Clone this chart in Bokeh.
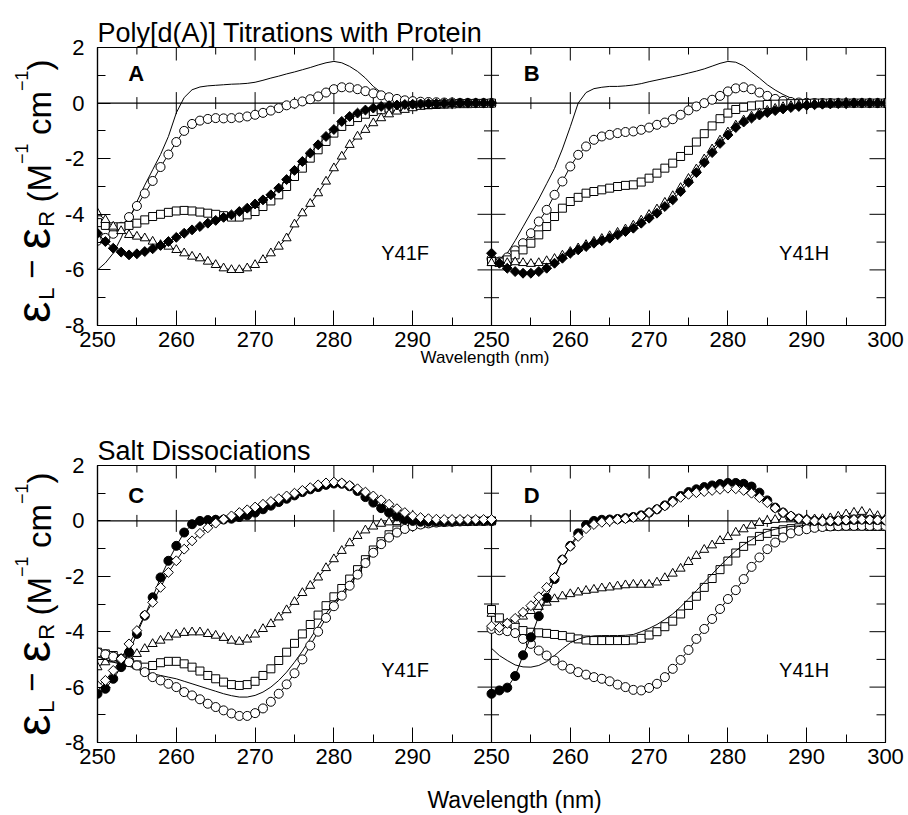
import math
from bokeh.plotting import figure
from bokeh.models import Range1d, FixedTicker, Span, Label, Title
from bokeh.layouts import column, row
from bokeh.embed import file_html
from bokeh.resources import INLINE

FONT = "Liberation Sans"

# ---------------- data (wavelength in nm, CD in M^-1 cm^-1) ----------------
wavelength = list(range(250, 301))

# Panel A  (Y41F, poly[d(A)] titration)
a_line = [-6.0, -5.75, -5.4, -4.85, -4.2, -3.55, -2.95, -2.4, -1.85, -1.2,
          -0.35, 0.2, 0.48, 0.58, 0.62, 0.64, 0.66, 0.68, 0.69, 0.71,
          0.75, 0.82, 0.9, 0.97, 1.05, 1.12, 1.2, 1.28, 1.37, 1.45,
          1.5, 1.45, 1.32, 1.14, 0.9, 0.6, 0.38, 0.22, 0.12, 0.06,
          0.03, 0.02, 0.01, 0.0, 0.0, 0.0, 0.0, 0.0, 0.0, 0.0, 0.0]
a_circ = [-4.95, -4.85, -4.7, -4.45, -4.1, -3.7, -3.25, -2.8, -2.3, -1.85,
          -1.4, -1.0, -0.75, -0.63, -0.57, -0.54, -0.55, -0.54, -0.52, -0.48,
          -0.42, -0.35, -0.27, -0.18, -0.08, -0.02, 0.06, 0.14, 0.24, 0.38,
          0.5, 0.57, 0.56, 0.5, 0.43, 0.35, 0.28, 0.21, 0.15, 0.1,
          0.07, 0.05, 0.04, 0.03, 0.02, 0.02, 0.01, 0.01, 0.0, 0.0, 0.0]
a_sq = [-4.3, -4.4, -4.45, -4.45, -4.4, -4.32, -4.2, -4.08, -4.0, -3.93,
        -3.88, -3.86, -3.88, -3.92, -3.96, -4.0, -4.05, -4.1, -4.1, -4.02,
        -3.9, -3.72, -3.52, -3.3, -3.0, -2.64, -2.34, -1.98, -1.68, -1.38,
        -1.08, -0.84, -0.66, -0.52, -0.4, -0.3, -0.24, -0.18, -0.14, -0.11,
        -0.09, -0.07, -0.06, -0.05, -0.04, -0.03, -0.02, -0.02, -0.01, -0.01, 0.0]
a_tri = [-3.96, -4.2, -4.44, -4.6, -4.74, -4.8, -4.86, -4.98, -5.1, -5.16,
         -5.28, -5.4, -5.52, -5.58, -5.7, -5.82, -5.94, -6.0, -6.0, -5.94,
         -5.82, -5.64, -5.4, -5.16, -4.86, -4.36, -3.96, -3.62, -3.24, -2.82,
         -2.34, -1.92, -1.5, -1.2, -0.96, -0.72, -0.54, -0.4, -0.3, -0.24,
         -0.18, -0.13, -0.1, -0.07, -0.05, -0.03, -0.02, -0.01, 0.0, 0.0, 0.0]
a_dia = [-4.68, -4.98, -5.22, -5.36, -5.46, -5.42, -5.34, -5.24, -5.12, -4.98,
         -4.83, -4.68, -4.56, -4.44, -4.32, -4.22, -4.11, -4.02, -3.9, -3.78,
         -3.63, -3.48, -3.3, -3.06, -2.75, -2.42, -2.1, -1.8, -1.5, -1.2,
         -0.95, -0.66, -0.48, -0.36, -0.25, -0.18, -0.12, -0.09, -0.07, -0.05,
         -0.04, -0.03, -0.02, -0.02, -0.01, -0.01, 0.0, 0.0, 0.0, 0.0, 0.0]

# Panel B  (Y41H, poly[d(A)] titration)
b_line = [-5.55, -5.6, -5.4, -4.95, -4.45, -3.95, -3.45, -2.9, -2.35, -1.65,
          -0.85, 0.0, 0.38, 0.52, 0.57, 0.6, 0.6, 0.62, 0.65, 0.7,
          0.77, 0.83, 0.89, 0.95, 1.01, 1.08, 1.15, 1.23, 1.33, 1.43,
          1.5, 1.47, 1.34, 1.12, 0.9, 0.66, 0.47, 0.31, 0.18, 0.1,
          0.05, 0.03, 0.02, 0.01, 0.0, 0.0, 0.0, 0.0, 0.0, 0.0, 0.0]
b_circ = [-5.6, -5.7, -5.55, -5.3, -5.04, -4.68, -4.26, -3.84, -3.3, -2.82,
          -2.28, -1.86, -1.56, -1.32, -1.2, -1.14, -1.08, -1.04, -1.02, -0.96,
          -0.88, -0.78, -0.7, -0.58, -0.42, -0.26, -0.12, 0.0, 0.12, 0.26,
          0.42, 0.53, 0.57, 0.5, 0.38, 0.26, 0.15, 0.08, 0.04, 0.02,
          0.01, 0.0, 0.0, 0.0, 0.0, 0.0, 0.0, 0.0, 0.0, 0.0, 0.0]
b_sq = [-5.7, -5.72, -5.64, -5.46, -5.28, -5.04, -4.74, -4.44, -4.08, -3.78,
        -3.54, -3.39, -3.24, -3.18, -3.12, -3.06, -3.0, -2.96, -2.94, -2.84,
        -2.7, -2.52, -2.34, -2.16, -1.92, -1.7, -1.4, -1.1, -0.82, -0.56,
        -0.36, -0.23, -0.15, -0.1, -0.07, -0.05, -0.04, -0.03, -0.02, -0.02,
        -0.01, 0.0, 0.0, 0.0, 0.0, 0.0, 0.0, 0.0, 0.0, 0.0, 0.0]
b_tri = [-5.75, -5.78, -5.75, -5.72, -5.75, -5.78, -5.75, -5.68, -5.6, -5.48,
         -5.35, -5.22, -5.1, -4.98, -4.88, -4.78, -4.66, -4.54, -4.4, -4.22,
         -4.02, -3.82, -3.58, -3.34, -3.05, -2.72, -2.38, -2.02, -1.66, -1.34,
         -1.05, -0.8, -0.62, -0.48, -0.36, -0.27, -0.2, -0.14, -0.1, -0.07,
         -0.05, -0.03, -0.02, -0.01, 0.0, 0.0, 0.0, 0.0, 0.0, 0.0, 0.0]
b_dia = [-5.4, -5.76, -5.94, -6.06, -6.12, -6.12, -6.06, -5.94, -5.76, -5.58,
         -5.4, -5.28, -5.16, -5.04, -4.95, -4.86, -4.74, -4.62, -4.5, -4.32,
         -4.14, -3.96, -3.72, -3.48, -3.18, -2.85, -2.5, -2.14, -1.78, -1.45,
         -1.15, -0.88, -0.68, -0.54, -0.43, -0.34, -0.27, -0.21, -0.16, -0.12,
         -0.08, -0.06, -0.04, -0.03, -0.02, -0.01, 0.0, 0.0, 0.0, 0.0, 0.0]

# Panel C  (Y41F, salt dissociation)
c_line = [-4.9, -5.0, -5.1, -5.18, -5.25, -5.35, -5.46, -5.52, -5.58, -5.64,
          -5.7, -5.79, -5.88, -5.97, -6.06, -6.15, -6.24, -6.31, -6.36, -6.36,
          -6.3, -6.18, -6.0, -5.76, -5.46, -5.1, -4.7, -4.25, -3.8, -3.35,
          -2.95, -2.6, -2.25, -1.85, -1.45, -1.08, -0.78, -0.54, -0.36, -0.24,
          -0.15, -0.1, -0.07, -0.05, -0.03, -0.02, -0.01, 0.0, 0.0, 0.0, 0.0]
c_tri = [-5.28, -5.1, -5.0, -4.98, -4.92, -4.8, -4.62, -4.44, -4.32, -4.2,
         -4.1, -4.04, -4.02, -4.02, -4.08, -4.14, -4.22, -4.32, -4.36, -4.28,
         -4.1, -3.9, -3.72, -3.48, -3.22, -2.92, -2.6, -2.34, -2.04, -1.7,
         -1.38, -1.08, -0.8, -0.54, -0.34, -0.2, -0.1, -0.05, -0.04, -0.04,
         -0.04, -0.03, -0.03, -0.02, -0.02, -0.01, -0.01, 0.0, 0.0, 0.0, 0.0]
c_sq = [-4.74, -4.8, -4.86, -4.98, -5.1, -5.2, -5.28, -5.22, -5.12, -5.07,
        -5.07, -5.16, -5.28, -5.42, -5.58, -5.7, -5.82, -5.91, -5.94, -5.91,
        -5.79, -5.58, -5.34, -5.04, -4.74, -4.42, -4.08, -3.74, -3.4, -3.06,
        -2.74, -2.44, -2.1, -1.76, -1.4, -1.05, -0.75, -0.5, -0.33, -0.22,
        -0.14, -0.1, -0.07, -0.05, -0.04, -0.03, -0.02, -0.02, -0.01, -0.01, 0.0]
c_circ = [-4.75, -4.82, -4.9, -4.98, -5.1, -5.22, -5.46, -5.64, -5.76, -5.88,
          -6.0, -6.18, -6.3, -6.44, -6.6, -6.72, -6.84, -6.95, -7.04, -7.04,
          -6.94, -6.77, -6.53, -6.24, -5.9, -5.5, -5.0, -4.5, -4.0, -3.5,
          -3.08, -2.7, -2.34, -1.94, -1.52, -1.15, -0.84, -0.6, -0.42, -0.29,
          -0.19, -0.13, -0.09, -0.06, -0.04, -0.03, -0.02, -0.01, 0.0, 0.0, 0.0]
c_fcirc = [-6.24, -6.06, -5.7, -5.28, -4.74, -4.08, -3.42, -2.76, -2.04, -1.44,
           -0.9, -0.42, -0.12, 0.0, 0.03, 0.04, 0.05, 0.08, 0.14, 0.2,
           0.3, 0.42, 0.55, 0.68, 0.8, 0.92, 1.04, 1.14, 1.22, 1.3,
           1.35, 1.34, 1.25, 1.08, 0.86, 0.66, 0.46, 0.3, 0.16, 0.06,
           0.0, -0.03, -0.03, -0.02, -0.02, -0.01, 0.0, 0.0, 0.0, 0.0, 0.0]
c_dia = [-5.95, -5.76, -5.4, -4.98, -4.44, -3.96, -3.4, -2.94, -2.4, -1.86,
         -1.44, -1.02, -0.72, -0.45, -0.25, -0.08, 0.06, 0.18, 0.3, 0.4,
         0.5, 0.6, 0.7, 0.8, 0.9, 1.0, 1.1, 1.2, 1.3, 1.37,
         1.4, 1.37, 1.28, 1.16, 1.04, 0.9, 0.76, 0.6, 0.44, 0.3,
         0.18, 0.12, 0.08, 0.06, 0.05, 0.05, 0.05, 0.05, 0.05, 0.05, 0.05]

# Panel D  (Y41H, salt dissociation)
d_line = [-4.6, -4.86, -5.04, -5.2, -5.27, -5.28, -5.22, -5.08, -4.86, -4.62,
          -4.4, -4.27, -4.19, -4.15, -4.14, -4.14, -4.14, -4.13, -4.1, -4.0,
          -3.88, -3.74, -3.56, -3.36, -3.1, -2.82, -2.52, -2.22, -1.92, -1.62,
          -1.34, -1.08, -0.86, -0.68, -0.5, -0.38, -0.3, -0.24, -0.2, -0.18,
          -0.16, -0.13, -0.12, -0.11, -0.1, -0.1, -0.1, -0.1, -0.1, -0.1, -0.1]
d_tri = [-3.35, -3.55, -3.7, -3.62, -3.45, -3.25, -3.1, -2.95, -2.82, -2.72,
         -2.64, -2.58, -2.52, -2.48, -2.43, -2.4, -2.36, -2.32, -2.3, -2.3,
         -2.3, -2.22, -2.06, -1.9, -1.72, -1.48, -1.26, -1.04, -0.88, -0.72,
         -0.58, -0.42, -0.3, -0.17, -0.07, 0.0, 0.04, 0.06, 0.06, 0.06,
         0.06, 0.06, 0.07, 0.1, 0.16, 0.24, 0.3, 0.33, 0.26, 0.18, 0.08]
d_sq = [-3.2, -3.5, -3.72, -3.84, -3.96, -4.02, -4.04, -4.06, -4.1, -4.14,
        -4.2, -4.26, -4.3, -4.32, -4.32, -4.32, -4.32, -4.32, -4.3, -4.24,
        -4.12, -4.0, -3.82, -3.62, -3.36, -3.05, -2.72, -2.4, -2.08, -1.76,
        -1.45, -1.16, -0.92, -0.72, -0.56, -0.45, -0.38, -0.32, -0.28, -0.25,
        -0.23, -0.21, -0.2, -0.2, -0.19, -0.19, -0.19, -0.19, -0.2, -0.2, -0.2]
d_circ = [-3.9, -3.95, -3.98, -4.05, -4.26, -4.44, -4.68, -4.86, -5.04, -5.22,
          -5.34, -5.46, -5.55, -5.64, -5.7, -5.79, -5.91, -6.0, -6.1, -6.12,
          -6.03, -5.88, -5.64, -5.34, -5.02, -4.66, -4.26, -3.9, -3.54, -3.18,
          -2.82, -2.5, -2.1, -1.66, -1.32, -1.02, -0.78, -0.6, -0.45, -0.36,
          -0.3, -0.25, -0.22, -0.2, -0.19, -0.18, -0.18, -0.18, -0.18, -0.18, -0.18]
d_fcirc = [-6.24, -6.12, -6.02, -5.6, -4.85, -4.2, -3.44, -2.78, -2.1, -1.4,
           -0.9, -0.45, -0.15, 0.0, 0.04, 0.05, 0.07, 0.1, 0.14, 0.2,
           0.3, 0.42, 0.56, 0.72, 0.9, 1.04, 1.14, 1.22, 1.28, 1.33,
           1.37, 1.37, 1.34, 1.24, 1.02, 0.74, 0.48, 0.3, 0.16, 0.08,
           0.03, 0.0, -0.01, -0.01, 0.0, 0.02, 0.04, 0.05, 0.04, 0.03, 0.02]
d_dia = [-3.8, -3.85, -3.7, -3.52, -3.3, -3.06, -2.74, -2.4, -2.04, -1.4,
         -0.92, -0.56, -0.28, -0.13, -0.05, 0.0, 0.05, 0.08, 0.12, 0.18,
         0.3, 0.42, 0.54, 0.68, 0.85, 0.96, 1.02, 1.06, 1.1, 1.14,
         1.18, 1.16, 1.1, 1.0, 0.84, 0.66, 0.46, 0.3, 0.18, 0.08,
         0.03, 0.0, -0.01, 0.0, 0.01, 0.03, 0.05, 0.05, 0.04, 0.03, 0.02]

# ticks (the two panels of a row share one frame: left 250-300, right 250-300)
x_major = list(range(250, 351, 10))
x_minor = list(range(255, 350, 10))
x_tick_labels = {300: "250", 310: "260", 320: "270", 330: "280", 340: "290", 350: "300"}
y_major = [-8, -6, -4, -2, 0, 2]
y_minor = [-7, -5, -3, -1, 1]
y_tick_labels = {-8: "-8", -6: "-6", -4: "-4", -2: "-2", 0: "0", 2: "2"}

panel_titles = ["Poly[d(A)] Titrations with Protein", "Salt Dissociations"]
panel_letters = [("A", "B"), ("C", "D")]
mutants = ("Y41F", "Y41H")
x_title = "Wavelength (nm)"

# rotated y-axis title pieces: text, font px, advance px, x of the text-box centre
ylab_pieces = [("ε", 48, 24.5, 33.4), ("L", 22, 12.5, 45.5), (" ", 0, 8.5, 0),
               ("−", 33, 19.5, 31), (" ", 0, 8.5, 0), ("ε", 48, 24.5, 33.4),
               ("R", 22, 15.5, 45.5), (" ", 0, 8.5, 0), ("(", 33, 11, 38.6),
               ("M", 33, 27.5, 38.6), ("−1", 18, 20.5, 21), (" ", 0, 8.5, 0),
               ("cm", 33, 44, 38.6), ("−1", 18, 20.5, 21), (")", 33, 11, 38.6)]

LAB_W = 60          # width of the strip that holds the rotated y title
FRAME_LEFT = 97     # frame left edge in page pixels
FRAME_W = 788
MAIN_W = 908 - LAB_W


def style_axis(ax, major_in, minor_in, standoff):
    ax.major_tick_in = major_in
    ax.major_tick_out = 0
    ax.minor_tick_in = minor_in
    ax.minor_tick_out = 0
    ax.axis_line_color = "black"
    ax.axis_line_width = 1.2
    ax.major_tick_line_color = "black"
    ax.minor_tick_line_color = "black"
    ax.major_tick_line_width = 1
    ax.minor_tick_line_width = 1
    ax.major_label_text_font = FONT
    ax.major_label_text_font_size = "22px"
    ax.major_label_text_color = "black"
    ax.major_label_standoff = standoff


def draw(p, kind, vals, rn):
    p.line(wavelength, vals, line_color="black", line_width=1, x_range_name=rn)
    if kind == "line":
        return
    common = dict(line_color="black", line_width=1, x_range_name=rn)
    if kind == "circle":
        p.scatter(wavelength, vals, marker="circle", size=9, fill_color="white", **common)
    elif kind == "fcircle":
        p.scatter(wavelength, vals, marker="circle", size=9, fill_color="black", **common)
    elif kind == "square":
        p.scatter(wavelength, vals, marker="square", size=8, fill_color="white", **common)
    elif kind == "triangle":
        p.scatter(wavelength, vals, marker="triangle", size=9, fill_color="white", **common)
    elif kind == "diamond":
        p.scatter(wavelength, vals, marker="square", angle=math.pi / 4, size=7,
                  fill_color="white", **common)
    elif kind == "fdiamond":
        p.scatter(wavelength, vals, marker="square", angle=math.pi / 4, size=7,
                  fill_color="black", **common)


def blank_fig(width, height, y_range):
    f = figure(width=width, height=height, x_range=Range1d(0, width), y_range=y_range,
               output_backend="svg", toolbar_location=None, tools="", min_border=0,
               x_axis_location=None, y_axis_location=None, outline_line_color=None,
               background_fill_color="white", border_fill_color="white")
    f.grid.visible = False
    for r in f.center:
        r.visible = False
    return f


def make_ylab(height, frame_h, start):
    # this strip sits in a row with the main plot, so its frame is aligned with
    # the main frame: the same y range gives the same vertical mapping
    f = blank_fig(LAB_W, height, Range1d(-8, 2))
    py = frame_h / 10.0
    pos = start
    for text, size, adv, cx in ylab_pieces:
        c = pos - adv / 2.0
        pos -= adv
        if not text.strip():
            continue
        f.add_layout(Label(x=cx, y=2 - c / py, text=text, angle=math.pi / 2,
                           text_align="center", text_baseline="middle", text_font=FONT,
                           text_font_size="%dpx" % size, text_color="black"))
    return f


def make_main(height, border_top, frame_h, row_i, left_series, right_series,
              letter_y, tag_y, with_xtitle):
    border_bottom = height - border_top - frame_h
    p = figure(width=MAIN_W, height=height, x_range=Range1d(250, 350), y_range=Range1d(-8, 2),
               output_backend="svg", toolbar_location=None, tools="",
               min_border_left=FRAME_LEFT - LAB_W, min_border_right=MAIN_W - (FRAME_LEFT - LAB_W) - FRAME_W,
               min_border_top=border_top, min_border_bottom=border_bottom,
               background_fill_color="white", border_fill_color="white")
    p.extra_x_ranges = {"right": Range1d(200, 300)}
    p.grid.visible = False
    p.outline_line_color = "black"
    p.outline_line_width = 1.2

    xa = p.xaxis[0]
    xa.ticker = FixedTicker(ticks=x_major, minor_ticks=x_minor)
    xa.major_label_overrides = x_tick_labels
    style_axis(xa, 15, 8, 6)
    ya = p.yaxis[0]
    ya.ticker = FixedTicker(ticks=y_major, minor_ticks=y_minor)
    ya.major_label_overrides = y_tick_labels
    style_axis(ya, 13, 8, 13)

    # inward ticks on top and right edges (half of each dash is clipped by the frame)
    tmaj = [t for t in x_major if t not in (250, 350)]
    p.scatter(tmaj, [2] * len(tmaj), marker="dash", angle=math.pi / 2, size=26,
              line_color="black", line_width=1)
    p.scatter(x_minor, [2] * len(x_minor), marker="dash", angle=math.pi / 2, size=14,
              line_color="black", line_width=1)
    rmaj = [t for t in y_major if t not in (-8, 2)]
    p.scatter([350] * len(rmaj), rmaj, marker="dash", size=32, line_color="black", line_width=1)
    p.scatter([350] * len(y_minor), y_minor, marker="dash", size=18, line_color="black", line_width=1)

    # zero line and panel divider with crossing ticks
    p.add_layout(Span(location=0, dimension="width", line_color="black", line_width=1.2, level="underlay"))
    p.add_layout(Span(location=300, dimension="height", line_color="black", line_width=1.2, level="underlay"))
    zmaj = [t for t in x_major if t not in (250, 300, 350)]
    p.scatter(zmaj, [0] * len(zmaj), marker="dash", angle=math.pi / 2, size=22,
              line_color="black", line_width=1, level="underlay")
    p.scatter(x_minor, [0] * len(x_minor), marker="dash", angle=math.pi / 2, size=12,
              line_color="black", line_width=1, level="underlay")
    dmaj = [t for t in y_major if t not in (-8, 0, 2)]
    p.scatter([300] * len(dmaj), dmaj, marker="dash", size=28, line_color="black",
              line_width=1, level="underlay")
    p.scatter([300] * len(y_minor), y_minor, marker="dash", size=15, line_color="black",
              line_width=1, level="underlay")

    for kind, vals in left_series:
        draw(p, kind, vals, "default")
    for kind, vals in right_series:
        draw(p, kind, vals, "right")

    # titles outside the frame
    p.title.text = panel_titles[row_i]
    p.title.text_font = FONT
    p.title.text_font_size = "27px"
    p.title.text_font_style = "normal"
    p.title.text_color = "black"
    p.title.align = "left"
    p.title.vertical_align = "bottom"
    p.title.offset = 0
    p.title.standoff = 0
    if with_xtitle:
        p.add_layout(Title(text=x_title, text_font=FONT, text_font_size="17px",
                           text_font_style="normal", text_color="black", align="left",
                           vertical_align="bottom", offset=323, standoff=-7), "below")

    # texts inside the frame
    la, lb = panel_letters[row_i]
    p.add_layout(Label(x=253.9, y=letter_y, text=la, text_font=FONT, text_font_style="bold",
                       text_font_size="22px", text_color="black", text_baseline="middle"))
    p.add_layout(Label(x=254.1, y=letter_y, text=lb, text_font=FONT, text_font_style="bold",
                       text_font_size="22px", text_color="black", text_baseline="middle",
                       x_range_name="right"))
    p.add_layout(Label(x=286.0, y=tag_y, text=mutants[0], text_font=FONT,
                       text_font_size="20px", text_color="black", text_baseline="middle"))
    p.add_layout(Label(x=286.5, y=tag_y, text=mutants[1], text_font=FONT,
                       text_font_size="20px", text_color="black", text_baseline="middle",
                       x_range_name="right"))
    return p


main_top = make_main(400, 47, 278, 0,
                     [("line", a_line), ("circle", a_circ), ("square", a_sq),
                      ("triangle", a_tri), ("fdiamond", a_dia)],
                     [("line", b_line), ("circle", b_circ), ("square", b_sq),
                      ("triangle", b_tri), ("fdiamond", b_dia)],
                     letter_y=1.08, tag_y=-5.39, with_xtitle=True)

main_bot = make_main(375, 65, 277, 1,
                     [("triangle", c_tri), ("square", c_sq), ("line", c_line),
                      ("circle", c_circ), ("fcircle", c_fcirc), ("diamond", c_dia)],
                     [("triangle", d_tri), ("square", d_sq), ("line", d_line),
                      ("circle", d_circ), ("fcircle", d_fcirc), ("diamond", d_dia)],
                     letter_y=0.93, tag_y=-5.38, with_xtitle=False)

lab_top = make_ylab(400, 278, 277)
lab_bot = make_ylab(375, 277, 272)

# bottom strip holding the lower x title
footer = blank_fig(908, 40, Range1d(0, 40))
footer.add_layout(Label(x=427, y=16, text=x_title, text_font=FONT, text_font_size="23px",
                        text_color="black", text_align="left", text_baseline="middle"))

layout = column(row(lab_top, main_top, spacing=0), row(lab_bot, main_bot, spacing=0), footer,
                spacing=0)
open("out.html", "w").write(file_html(layout, INLINE))
